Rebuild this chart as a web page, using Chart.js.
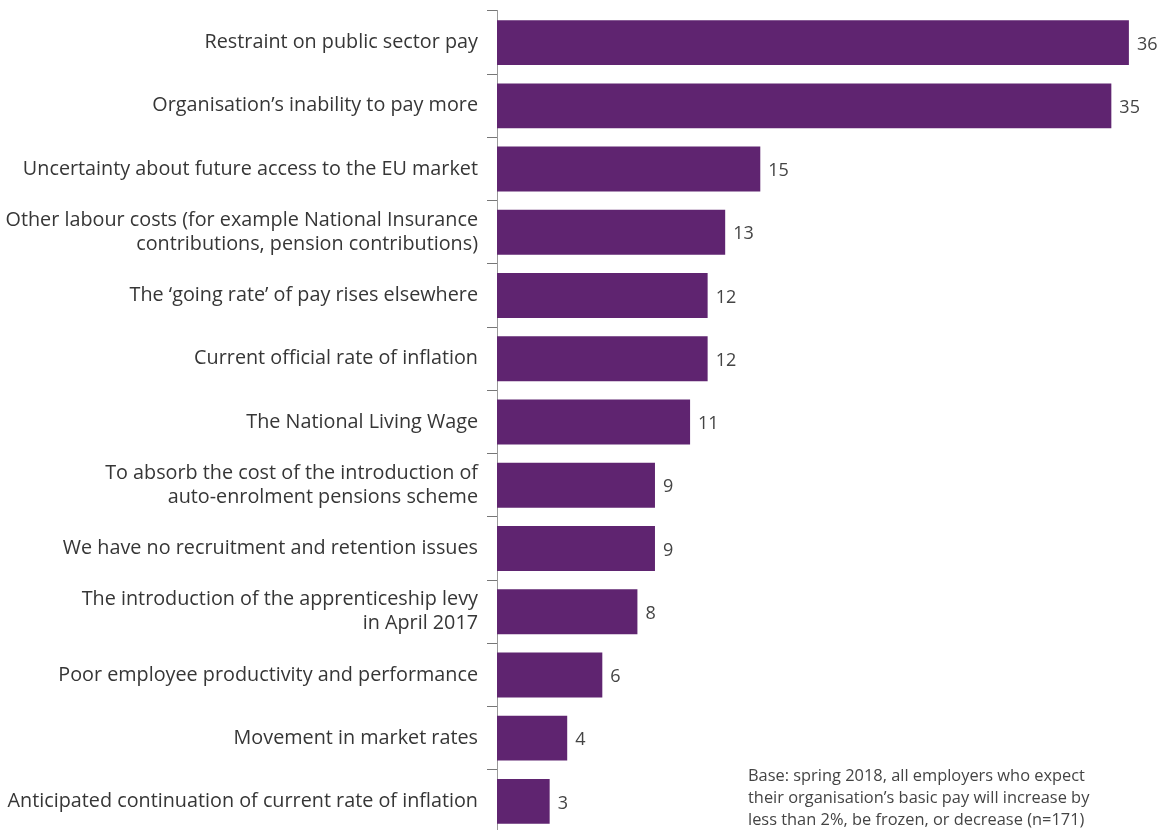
<!DOCTYPE html>
<html>
<head>
<meta charset="utf-8">
<script src="https://cdn.jsdelivr.net/npm/chart.js@4.4.0/dist/chart.umd.min.js"></script>
<style>
    html, body { margin: 0; padding: 0; background: #fff; overflow: hidden; }
    #wrap { position: relative; width: 1176px; height: 830px; overflow: hidden; }
    #motivosChart { position: absolute; left: 0; top: -10px; }
    #nota {
        position: absolute; left: 748px; top: 764px;
        font-family: "Open Sans", sans-serif; font-size: 16.4px; line-height: 22px;
        color: #444;
    }
</style>
</head>
<body>
<div id="wrap">
    <canvas id="motivosChart" width="1176" height="864"></canvas>
    <div id="nota">Base: spring 2018, all employers who expect<br>their organisation’s basic pay will increase by<br>less than 2%, be frozen, or decrease (n=171)</div>
</div>
<script>
const categorias = [
    "Restraint on public sector pay",
    "Organisation’s inability to pay more",
    "Uncertainty about future access to the EU market",
    ["Other labour costs (for example National Insurance", "contributions, pension contributions)"],
    "The ‘going rate’ of pay rises elsewhere",
    "Current official rate of inflation",
    "The National Living Wage",
    ["To absorb the cost of the introduction of", "auto-enrolment pensions scheme"],
    "We have no recruitment and retention issues",
    ["The introduction of the apprenticeship levy", "in April 2017"],
    "Poor employee productivity and performance",
    "Movement in market rates",
    "Anticipated continuation of current rate of inflation"
];
const valores = [36, 35, 15, 13, 12, 12, 11, 9, 9, 8, 6, 4, 3];

const corBarra = "#5f2470";
const fonte = "'Open Sans', sans-serif";

// escreve o valor logo depois do fim de cada barra
const rotulosValor = {
    id: "rotulosValor",
    afterDatasetsDraw(chart) {
        const ctx = chart.ctx;
        const meta = chart.getDatasetMeta(0);
        ctx.save();
        ctx.font = "18px " + fonte;
        ctx.fillStyle = "#444";
        ctx.textAlign = "left";
        ctx.textBaseline = "middle";
        meta.data.forEach((barra, i) => {
            ctx.fillText(String(valores[i]), barra.x + 8, barra.y + 2);
        });
        ctx.restore();
    }
};

const ctx = document.getElementById("motivosChart").getContext("2d");
new Chart(ctx, {
    type: "bar",
    data: {
        labels: categorias,
        datasets: [{
            data: valores,
            backgroundColor: corBarra,
            borderWidth: 0,
            categoryPercentage: 1,
            barPercentage: 0.71
        }]
    },
    options: {
        indexAxis: "y",
        responsive: false,
        animation: false,
        layout: { padding: { top: 0, right: 12, bottom: 0, left: 0 } },
        plugins: {
            legend: { display: false },
            tooltip: { enabled: false }
        },
        scales: {
            x: {
                display: false,
                min: 0,
                max: 38
            },
            y: {
                afterFit: scale => { scale.width = 497; },
                border: { display: true, color: "#999", width: 1 },
                grid: {
                    display: true,
                    drawOnChartArea: false,
                    offset: true,
                    tickLength: 10,
                    color: "#777",
                    lineWidth: 1
                },
                ticks: {
                    padding: 9,
                    color: "#363636",
                    font: { family: fonte, size: 19.8, lineHeight: 1.21 }
                }
            }
        }
    },
    plugins: [rotulosValor]
});
</script>
</body>
</html>
